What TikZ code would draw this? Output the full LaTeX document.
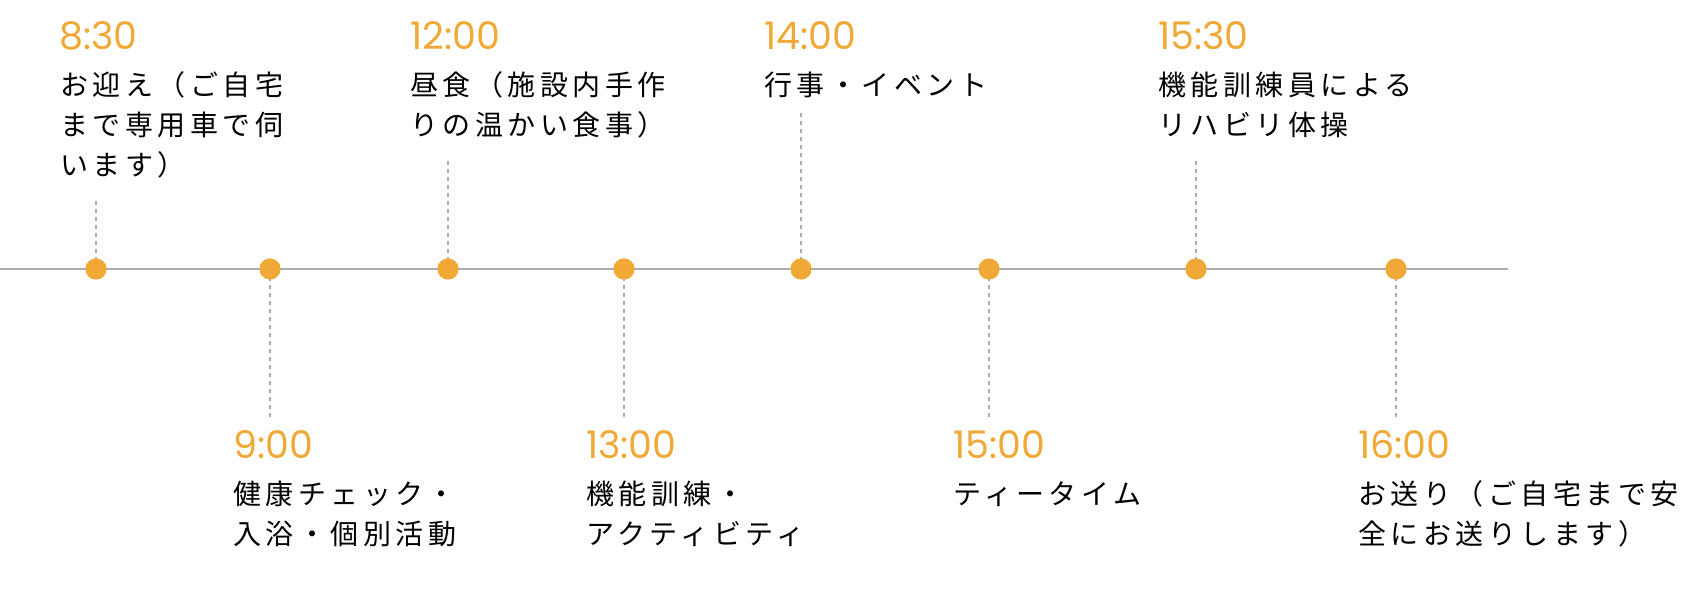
\documentclass[tikz,border=0pt]{standalone}
\usepackage{fontspec}
\newfontfamily\jpfont[LetterSpace=16]{Noto Sans CJK JP}
\newfontfamily\timefont{Poppins}
\definecolor{accent}{RGB}{240,168,54}
\definecolor{axisgray}{RGB}{172,172,172}
\newcommand\twolines[2]{\vtop{\baselineskip=40pt\hbox{#1}\hbox{#2}}}
\newcommand\threelines[3]{\vtop{\baselineskip=40pt\hbox{#1}\hbox{#2}\hbox{#3}}}
\begin{document}
\begin{tikzpicture}[x=1pt,y=-1pt,
  dot/.style={circle,fill=accent,inner sep=0pt,minimum size=21pt},
  timelbl/.style={anchor=base west,inner sep=0pt,text=accent,font=\timefont\fontsize{38}{38}\selectfont},
  desc/.style={anchor=base west,inner sep=0pt,font=\jpfont\fontsize{28}{40}\selectfont},
  leader/.style={draw=axisgray,line width=1.5pt,dash pattern=on 4pt off 4pt},
  axis/.style={draw=axisgray,line width=2pt}]
\useasboundingbox (0,0) rectangle (1684,596);
% axis
\coordinate (axL) at (0,269);
\coordinate (axR) at (1508,269);
\draw[axis] (axL) -- (axR);
% dots
\node[dot] (p1) at (96,269) {};
\node[dot] (p2) at (270,269) {};
\node[dot] (p3) at (448,269) {};
\node[dot] (p4) at (624,269) {};
\node[dot] (p5) at (801,269) {};
\node[dot] (p6) at (989,269) {};
\node[dot] (p7) at (1196,269) {};
\node[dot] (p8) at (1396,269) {};
% leader ends
\coordinate (e1) at (96,200);
\coordinate (e2) at (270,417);
\coordinate (e3) at (448,159);
\coordinate (e4) at (624,417);
\coordinate (e5) at (801,112);
\coordinate (e6) at (989,417);
\coordinate (e7) at (1196,158);
\coordinate (e8) at (1396,417);
\foreach \i in {1,...,8} \draw[leader] (p\i.center) -- (e\i);
\foreach \i in {1,...,8} \node[dot] at (p\i) {};
% above labels
\node[timelbl] (t1) at (59,50) {8:30};
\node[desc] (d1) at (60,96) {\threelines{お迎え（ご自宅}{まで専用車で伺}{います）}};
\node[timelbl] (t3) at (410,50) {12:00};
\node[desc] (d3) at (410,96) {\twolines{昼食（施設内手作}{りの温かい食事）}};
\node[timelbl] (t5) at (764,50) {14:00};
\node[desc] (d5) at (764,96) {行事・イベント};
\node[timelbl] (t7) at (1158,50) {15:30};
\node[desc] (d7) at (1158,96) {\twolines{機能訓練員による}{リハビリ体操}};
% below labels
\node[timelbl] (t2) at (233,458) {9:00};
\node[desc] (d2) at (233,504) {\twolines{健康チェック・}{入浴・個別活動}};
\node[timelbl] (t4) at (586,458) {13:00};
\node[desc] (d4) at (586,504) {\twolines{機能訓練・}{アクティビティ}};
\node[timelbl] (t6) at (953,458) {15:00};
\node[desc] (d6) at (953,504) {ティータイム};
\node[timelbl] (t8) at (1358,458) {16:00};
\node[desc] (d8) at (1358,504) {\twolines{お送り（ご自宅まで安}{全にお送りします）}};
\end{tikzpicture}
\end{document}
